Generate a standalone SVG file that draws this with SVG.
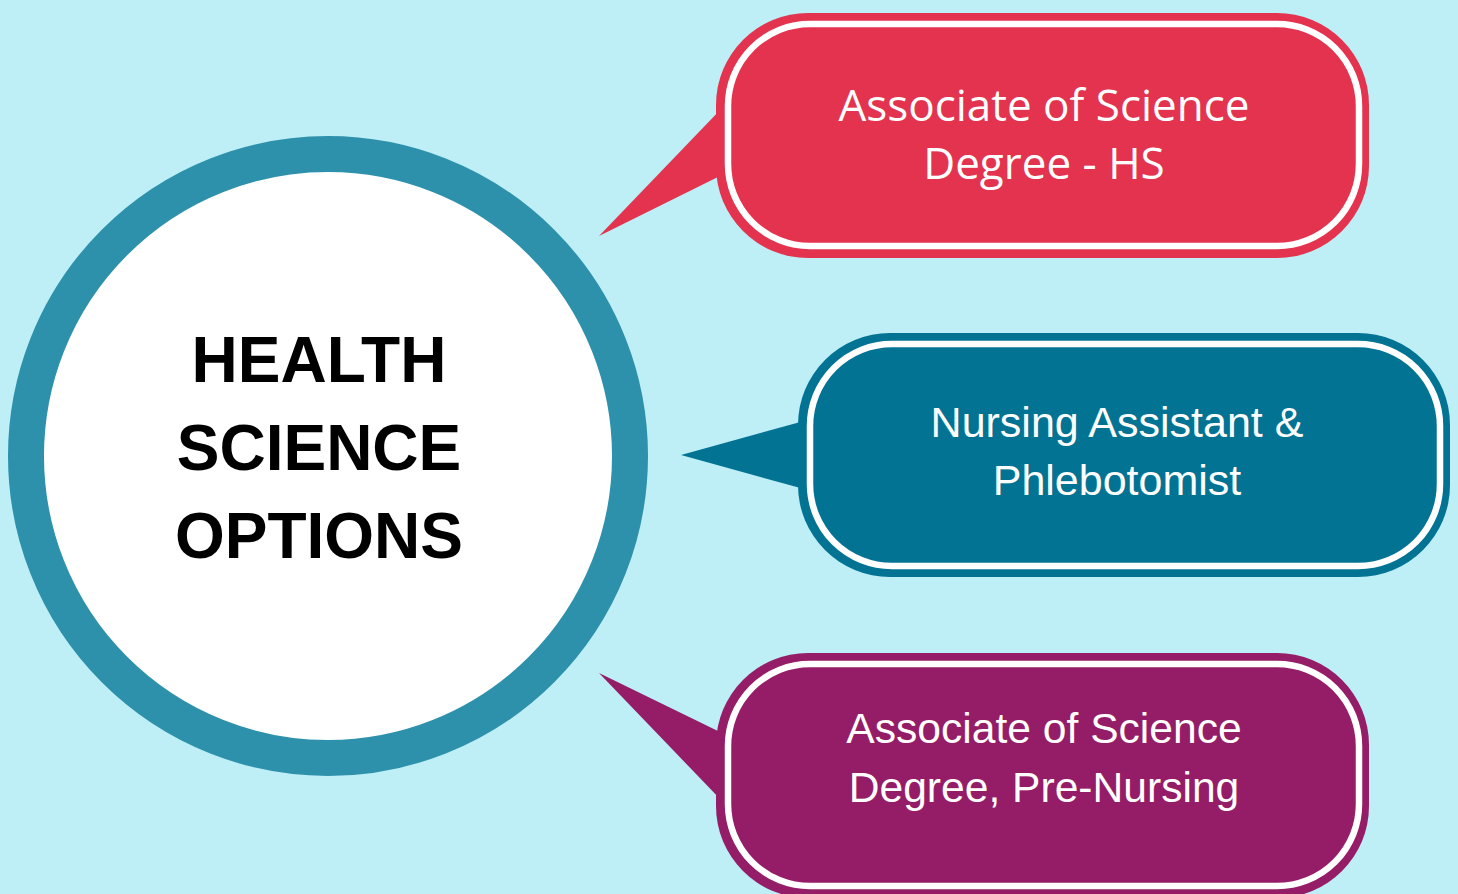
<svg xmlns="http://www.w3.org/2000/svg" width="1458" height="894" viewBox="0 0 1458 894">
  <style>
    .bg { fill: #BEEFF6; }
    .ring { fill: #FFFFFF; stroke: #2E91AC; stroke-width: 36; }
    .inner { fill: none; stroke: #FFFFFF; stroke-width: 6.5; }
    .red { fill: #E3334F; }
    .teal { fill: #037394; }
    .purple { fill: #951C67; }
    .title { font-family: "Liberation Sans", Arial, sans-serif; font-weight: bold; font-size: 64px; fill: #000000; text-anchor: middle; }
    .lbl-plex { font-family: "Open Sans", "Noto Sans", sans-serif; font-size: 44px; fill: #FFFFFF; text-anchor: middle; }
    .lbl { font-family: "Liberation Sans", Arial, sans-serif; font-size: 42.6px; fill: #FFFFFF; text-anchor: middle; }
  </style>
  <rect class="bg" x="0" y="0" width="1458" height="894"/>

  <g id="connectors">
    <polygon class="red" points="599,236 722,108 722,175"/>
    <polygon class="teal" points="681,455 804,421 804,489"/>
    <polygon class="purple" points="599,673 722,733 722,801"/>
  </g>

  <g id="center-node">
    <circle class="ring" cx="328" cy="456" r="302"/>
    <text class="title" x="319" y="382">HEALTH</text>
    <text class="title" x="319" y="470">SCIENCE</text>
    <text class="title" x="319" y="558">OPTIONS</text>
  </g>

  <g id="node-as-hs">
    <rect class="red" x="716" y="13" width="653" height="245" rx="92" ry="92"/>
    <rect class="inner" x="728" y="24" width="631" height="222" rx="82" ry="82"/>
    <text class="lbl-plex" x="1044" y="121">Associate of Science</text>
    <text class="lbl-plex" x="1044" y="179">Degree - HS</text>
  </g>

  <g id="node-nursing-assistant">
    <rect class="teal" x="798" y="333" width="652" height="244" rx="92" ry="92"/>
    <rect class="inner" x="810" y="344" width="630" height="222" rx="82" ry="82"/>
    <text class="lbl" x="1117" y="437" style="font-size:43px">Nursing Assistant &amp;</text>
    <text class="lbl" x="1117" y="495" style="font-size:43px">Phlebotomist</text>
  </g>

  <g id="node-pre-nursing">
    <rect class="purple" x="716" y="653" width="653" height="245" rx="92" ry="92"/>
    <rect class="inner" x="728" y="664" width="631" height="222" rx="82" ry="82"/>
    <text class="lbl" x="1044" y="743">Associate of Science</text>
    <text class="lbl" x="1044" y="802">Degree, Pre-Nursing</text>
  </g>
</svg>
